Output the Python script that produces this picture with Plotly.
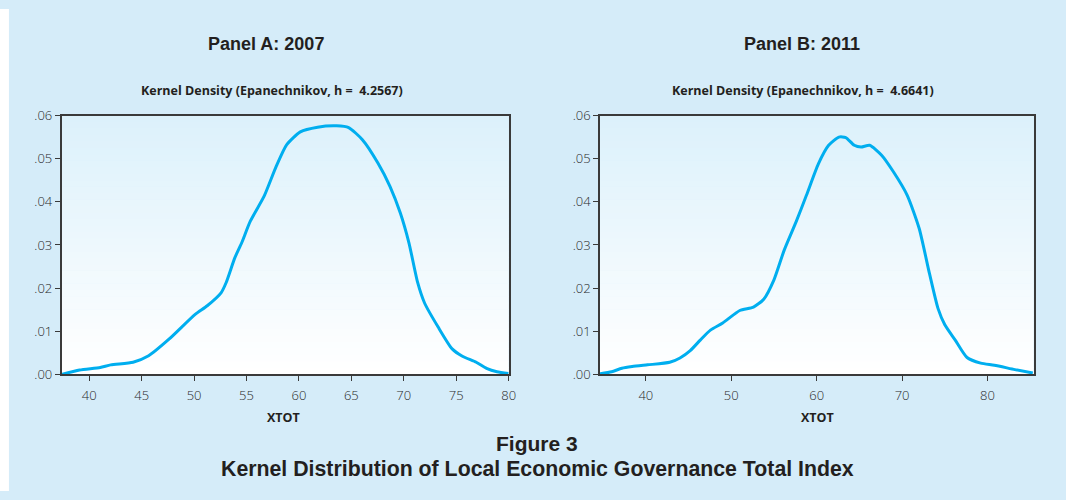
import plotly.graph_objects as go

# ---- data ----
xa = [37.36, 39.08, 41.05, 42.04, 44.18, 45.66, 47.63, 50.1, 51.25, 52.57, 53.06, 53.88, 54.54,
      55.36, 56.68, 57.83, 58.82, 60.13, 61.78, 63.59, 64.74, 66.05, 67.53, 68.68, 69.67, 70.49,
      71.32, 71.97, 73.29, 74.61, 75.59, 76.91, 77.89, 78.88, 80.0]
ya = [0.0, 0.0010, 0.0016, 0.0022, 0.0028, 0.0043, 0.0082, 0.0139, 0.0159, 0.0189, 0.0213, 0.0270,
      0.0305, 0.0355, 0.0413, 0.0482, 0.0532, 0.0562, 0.0573, 0.0576, 0.0572, 0.0544, 0.0490,
      0.0436, 0.0374, 0.0305, 0.0213, 0.0166, 0.0109, 0.0059, 0.0042, 0.0028, 0.0014, 0.0006, 0.0002]

xb = [34.6, 36.0, 37.2, 38.4, 40.2, 42.8, 44.0, 45.2, 46.4, 47.6, 49.0, 51.0, 52.6, 53.8, 55.0,
      56.2, 57.6, 58.8, 60.2, 61.4, 62.6, 63.4, 64.4, 65.2, 66.2, 67.6, 69.0, 70.6, 72.0, 73.2,
      74.2, 75.0, 76.2, 77.6, 79.2, 80.8, 83.2, 85.3]
yb = [0.0001, 0.0006, 0.0014, 0.0018, 0.0022, 0.0028, 0.0038, 0.0055, 0.0080, 0.0103, 0.0119,
      0.0148, 0.0156, 0.0174, 0.0219, 0.0288, 0.0354, 0.0415, 0.0488, 0.0531, 0.0550, 0.0549,
      0.0531, 0.0527, 0.0531, 0.0508, 0.0469, 0.0415, 0.0338, 0.0234, 0.0153, 0.0115, 0.0080,
      0.0039, 0.0026, 0.0021, 0.0011, 0.0003]

ytick_vals = [0.0, 0.01, 0.02, 0.03, 0.04, 0.05, 0.06]
ytick_text = [".00", ".01", ".02", ".03", ".04", ".05", ".06"]
xa_ticks = [40, 45, 50, 55, 60, 65, 70, 75, 80]
xb_ticks = [40, 50, 60, 70, 80]

panel_titles = ["Panel A: 2007", "Panel B: 2011"]
sub_titles = ["Kernel Density (Epanechnikov, h =  4.2567)", "Kernel Density (Epanechnikov, h =  4.6641)"]
fig_title = "Figure 3"
fig_subtitle = "Kernel Distribution of Local Economic Governance Total Index"

W, H = 1066, 500
LINE = "#00aeef"
OUTER = "#d5ecf9"

fig = go.Figure()
fig.add_trace(go.Scatter(x=xa, y=ya, mode="lines", line=dict(color=LINE, width=3, shape="spline", smoothing=0.6),
                         xaxis="x", yaxis="y", showlegend=False, hoverinfo="skip"))
fig.add_trace(go.Scatter(x=xb, y=yb, mode="lines", line=dict(color=LINE, width=3, shape="spline", smoothing=0.6),
                         xaxis="x2", yaxis="y2", showlegend=False, hoverinfo="skip"))

axis_common = dict(showline=True, linecolor="#3a3a3a", linewidth=1.5, mirror=True, ticks="outside",
                   ticklen=5, tickcolor="#3a3a3a", tickwidth=1.2, showgrid=False, zeroline=False,
                   tickfont=dict(family="Open Sans", size=13, color="#2a2a2a", weight=300))

PT, PB = 110.5, 379
ydom = [(H - PB) / H, (H - PT) / H]
fig.update_layout(
    width=W, height=H,
    margin=dict(l=0, r=0, t=0, b=0),
    paper_bgcolor=OUTER,
    plot_bgcolor="rgba(0,0,0,0)",
    hovermode=False,
    xaxis=dict(domain=[62 / W, 512 / W], range=[37.36, 80], tickvals=xa_ticks, anchor="y",
               ticklabelstandoff=3, **axis_common),
    yaxis=dict(domain=ydom, range=[0, 0.06], tickvals=ytick_vals, ticktext=ytick_text, anchor="x", **axis_common),
    xaxis2=dict(domain=[604 / W, 1040.5 / W], range=[34.64, 85.4], tickvals=xb_ticks, anchor="y2",
                ticklabelstandoff=3, **axis_common),
    yaxis2=dict(domain=ydom, range=[0, 0.06], tickvals=ytick_vals, ticktext=ytick_text, anchor="x2", **axis_common),
)

# white page border on the left of the blue box
shapes = [
    dict(type="rect", xref="paper", yref="paper", x0=0, x1=9 / W, y0=0, y1=1,
         fillcolor="white", line=dict(width=0), layer="below"),
]
# vertical gradient inside plot areas: light blue at top to white at bottom
n = 40
c_top = (220, 241, 251)
c_bot = (255, 255, 255)
for ax in ["", "2"]:
    for i in range(n):
        t = i / (n - 1)
        c = tuple(int(round(c_bot[k] + (c_top[k] - c_bot[k]) * t)) for k in range(3))
        shapes.append(dict(type="rect", xref=f"x{ax} domain", yref=f"y{ax} domain",
                           x0=0, x1=1, y0=i / n, y1=(i + 1) / n + 0.002,
                           fillcolor=f"rgb{c}", line=dict(width=0), layer="below"))
fig.update_layout(shapes=shapes)

def ann(text, x, y, size, family, bold=True, color="#231f20"):
    return dict(text=f"<b>{text}</b>" if bold else text, x=x / W, y=(H - y) / H, xref="paper", yref="paper",
                showarrow=False, xanchor="center", yanchor="middle",
                font=dict(family=family, size=size, color=color))

annotations = [
    ann(panel_titles[0], 268, 36, 18, "Liberation Sans"),
    ann(panel_titles[1], 807, 36, 18, "Liberation Sans"),
    ann(sub_titles[0], 274, 84.5, 12.5, "Open Sans"),
    ann(sub_titles[1], 808, 84.5, 12.5, "Open Sans"),
    ann("XTOT", 285, 424, 12.5, "Open Sans"),
    ann("XTOT", 823, 424, 12.5, "Open Sans"),
    ann(fig_title, 541, 450.5, 21, "Liberation Sans"),
    ann(fig_subtitle, 541, 477.5, 21.3, "Liberation Sans"),
]
fig.update_layout(annotations=annotations)

fig.write_html("out.html", config={"displayModeBar": False},
               post_script="document.body.style.margin='0';document.body.style.overflow='hidden';")
